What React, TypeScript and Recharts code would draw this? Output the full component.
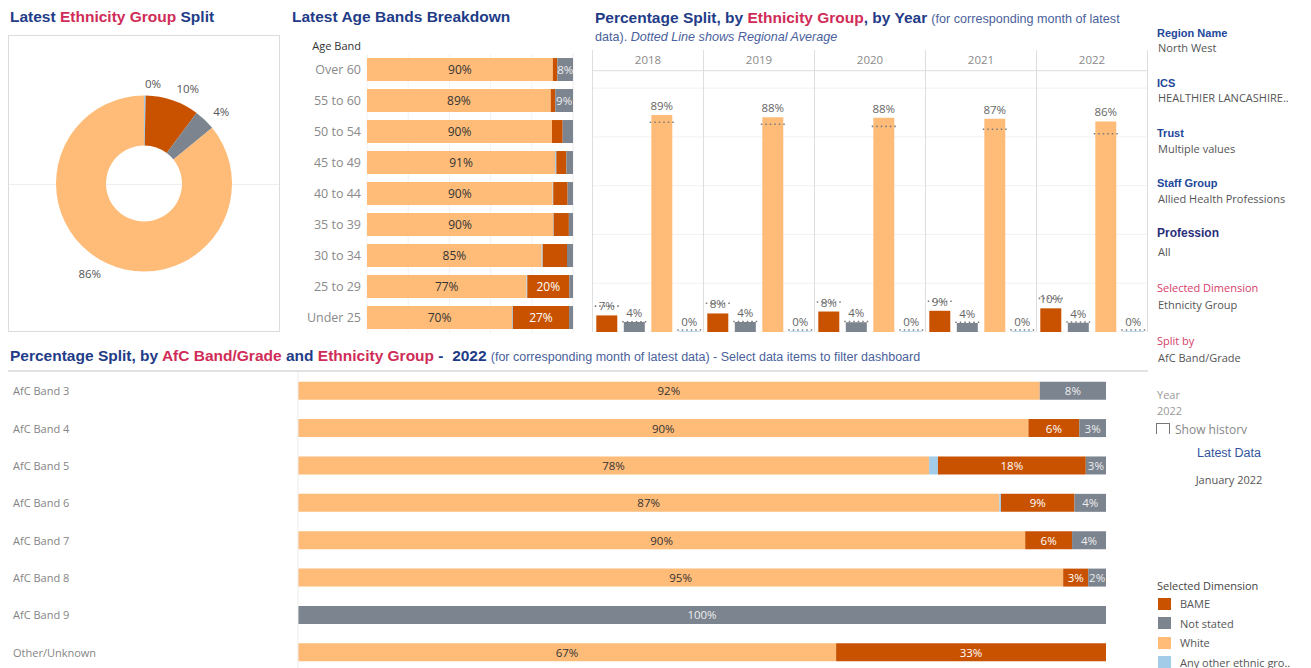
import React from 'react';
import {
  PieChart, Pie, Cell, BarChart, Bar, XAxis, YAxis, CartesianGrid, LabelList, ComposedChart, Line,
} from 'recharts';

// ---------- colours ----------
const COLORS: Record<string, string> = {
  BAME: '#C85200',
  'Not stated': '#7B848F',
  White: '#FFBC79',
  'Any other ethnic group': '#A3CCE9',
};
const NAVY = '#1F3C88';
const RED = '#D02C58';
const SUB = '#4A5F9C';
const FONT = "'Open Sans', 'Noto Sans', sans-serif";
const TFONT = "'Liberation Sans', Arial, sans-serif";

// ---------- data: latest split (pie) ----------
const pieGroups = ['Any other ethnic group', 'BAME', 'Not stated', 'White'];
const pieValues = [0.3, 9.9, 3.9, 85.9];

// ---------- data: age bands ----------
const ageBands = ['Over 60', '55 to 60', '50 to 54', '45 to 49', '40 to 44', '35 to 39', '30 to 34', '25 to 29', 'Under 25'];
const ageWhite = [90.2, 89.2, 89.8, 91.3, 90.1, 90.3, 84.8, 77.4, 70.4];
const ageOther = [0, 0, 0, 0.6, 0.3, 0.3, 0.5, 0.4, 0.4];
const ageBAME = [2.2, 2.2, 5.2, 4.9, 7.0, 7.4, 11.8, 20.4, 27.3];
const ageNS = [7.6, 8.6, 5.0, 3.2, 2.6, 2.0, 2.9, 1.8, 1.9];
const ageLabelledBAME = ['25 to 29', 'Under 25'];
const ageLabelledNS = ['Over 60', '55 to 60'];

// ---------- data: by year ----------
const years = ['2018', '2019', '2020', '2021', '2022'];
const yearGroups = ['BAME', 'Not stated', 'White', 'Any other ethnic group'];
const yearBAME = [6.8, 7.6, 8.4, 8.7, 9.7];
const yearNS = [4.1, 4.1, 4.0, 3.7, 3.8];
const yearWhite = [89, 88, 87.8, 87.4, 86.3];
const yearOther = [0.3, 0.3, 0.3, 0.3, 0.3];
const avgBAME = [10.6, 11.8, 12.3, 12.6, 13.8];
const avgNS = [4.2, 4.3, 4.3, 4.0, 4.1];
const avgWhite = [86.0, 85.2, 84.3, 83.1, 81.3];
const avgOther = [0.8, 0.8, 0.8, 0.8, 0.8];

// ---------- data: AfC band ----------
const afcBands = ['AfC Band 3', 'AfC Band 4', 'AfC Band 5', 'AfC Band 6', 'AfC Band 7', 'AfC Band 8', 'AfC Band 9', 'Other/Unknown'];
const afcWhite = [91.8, 90.4, 78.1, 86.8, 90.0, 94.7, 0, 66.6];
const afcOther = [0, 0, 1.1, 0.2, 0, 0, 0, 0];
const afcBAME = [0, 6.3, 18.3, 9.1, 5.8, 3.1, 0, 33.4];
const afcNS = [8.2, 3.3, 2.5, 3.9, 4.2, 2.2, 100, 0];

// ---------- side panel ----------
const legendItems = ['BAME', 'Not stated', 'White', 'Any other ethnic group'];
const legendLabels = ['BAME', 'Not stated', 'White', 'Any other ethnic gro..'];

// ---------- derived tables ----------
const pieData = pieGroups.map((g, i) => ({ name: g, value: pieValues[i] }));

const ageData = ageBands.map((band, i) => ({
  band,
  White: ageWhite[i],
  Other: ageOther[i],
  BAME: ageBAME[i],
  NS: ageNS[i],
  BAMELabel: ageLabelledBAME.includes(band) ? ageBAME[i] : null,
  NSLabel: ageLabelledNS.includes(band) ? ageNS[i] : null,
}));

const yearSeries = [yearBAME, yearNS, yearWhite, yearOther];
const yearAvg = [avgBAME, avgNS, avgWhite, avgOther];
const yearData = years.map((_, yi) =>
  yearGroups.map((g, gi) => ({ group: g, value: yearSeries[gi][yi], avg: yearAvg[gi][yi] })),
);

const afcData = afcBands.map((band, i) => ({
  band,
  White: afcWhite[i],
  Other: afcOther[i],
  BAME: afcBAME[i],
  NS: afcNS[i],
}));

const pct = (v: any) => `${Math.round(Number(v))}%`;

// ---------- renderers ----------
const RAD = Math.PI / 180;
const renderPieLabel = (p: any) => {
  const { cx, cy, midAngle, outerRadius, value } = p;
  const r = outerRadius + 12;
  const x = cx + r * Math.cos(-midAngle * RAD);
  const y = cy + r * Math.sin(-midAngle * RAD);
  return (
    <text x={x} y={y} textAnchor={x >= cx ? 'start' : 'end'} dominantBaseline="central" fill="#555" fontSize={11.5}>
      {pct(value)}
    </text>
  );
};

const makeSegLabel = (color: string, size: number, minValue: number) => (p: any) => {
  const { x, y, width, height, value } = p;
  if (value == null || Number(value) < minValue) return null;
  return (
    <text
      x={Number(x) + Number(width) / 2}
      y={Number(y) + Number(height) / 2}
      textAnchor="middle"
      dominantBaseline="central"
      fill={color}
      fontSize={size}
    >
      {pct(value)}
    </text>
  );
};

const renderAvgDash = (p: any) => {
  const { cx, cy, index } = p;
  if (cx == null || cy == null) return <g key={`d${index}`} />;
  return (
    <line
      key={`d${index}`}
      x1={cx - 12}
      x2={cx + 12}
      y1={cy}
      y2={cy}
      stroke="#7a7a7a"
      strokeWidth={1.6}
      strokeDasharray="1.5 3"
    />
  );
};

const AfcTick = (p: any) => {
  const { x, y, payload } = p;
  return (
    <text x={x - 285} y={y} textAnchor="start" dominantBaseline="central" fill="#858585" fontSize={11}>
      {payload.value}
    </text>
  );
};

const Txt = (p: { x: number; y: number; children: React.ReactNode; style?: React.CSSProperties }) => (
  <div style={{ position: 'absolute', left: p.x, top: p.y - 8, lineHeight: '16px', whiteSpace: 'nowrap', ...p.style }}>
    {p.children}
  </div>
);

const titleStyle: React.CSSProperties = { fontFamily: TFONT, fontWeight: 'bold', fontSize: 15.5, color: NAVY };
const subStyle: React.CSSProperties = { fontFamily: TFONT, fontSize: 12.6, color: SUB };
const fLabel: React.CSSProperties = { fontFamily: TFONT, fontWeight: 'bold', fontSize: 11, color: '#23479A' };
const fValue: React.CSSProperties = { fontSize: 11, color: '#555' };
const pinkLabel: React.CSSProperties = { fontSize: 11, color: '#D6406B' };

export default function App() {
  return (
    <div
      style={{
        position: 'absolute', left: 0, top: 0, width: 1311, height: 668, overflow: 'hidden',
        background: '#fff', fontFamily: FONT, color: '#555',
      }}
    >
      {/* ---------- Pie ---------- */}
      <Txt x={10} y={17} style={titleStyle}>
        Latest <span style={{ color: RED }}>Ethnicity Group</span> Split
      </Txt>
      <div style={{ position: 'absolute', left: 8, top: 35, width: 272, height: 297, border: '1px solid #dcdcdc', boxSizing: 'border-box' }}>
        <div style={{ position: 'absolute', left: 0, right: 0, top: 148, height: 1, background: '#eeeeee' }} />
        <div style={{ position: 'absolute', left: 0, top: 0 }}>
          <PieChart width={270} height={295} margin={{ top: 0, right: 0, bottom: 0, left: 0 }}>
            <Pie
              data={pieData}
              dataKey="value"
              nameKey="name"
              cx="50%"
              cy="50%"
              innerRadius={38}
              outerRadius={88}
              startAngle={90}
              endAngle={-270}
              stroke="none"
              label={renderPieLabel}
              labelLine={false}
              isAnimationActive={false}
            >
              {pieData.map((d) => (
                <Cell key={d.name} fill={COLORS[d.name]} />
              ))}
            </Pie>
          </PieChart>
        </div>
      </div>

      {/* ---------- Age bands ---------- */}
      <Txt x={292} y={17} style={titleStyle}>Latest Age Bands Breakdown</Txt>
      <div style={{ position: 'absolute', left: 290, top: 38, width: 71, textAlign: 'right', fontSize: 11, color: '#333', lineHeight: '16px' }}>
        Age Band
      </div>
      <div style={{ position: 'absolute', left: 290, top: 54 }}>
        <BarChart
          layout="vertical"
          width={290}
          height={279}
          data={ageData}
          margin={{ top: 0, right: 7, bottom: 0, left: 0 }}
          barCategoryGap="13%"
        >
          <CartesianGrid horizontal={false} stroke="#f2f2f2" />
          <XAxis type="number" domain={[0, 100]} ticks={[0, 20, 40, 60, 80, 100]} hide />
          <YAxis
            type="category"
            dataKey="band"
            width={77}
            axisLine={false}
            tickLine={false}
            tickSize={0}
            tickMargin={6}
            tick={{ fill: '#8a8a8a', fontSize: 12.5 }}
          />
          <Bar dataKey="White" stackId="a" fill={COLORS.White} isAnimationActive={false}>
            <LabelList dataKey="White" content={makeSegLabel('#333', 12, 0)} />
          </Bar>
          <Bar dataKey="Other" stackId="a" fill={COLORS['Any other ethnic group']} isAnimationActive={false} />
          <Bar dataKey="BAME" stackId="a" fill={COLORS.BAME} isAnimationActive={false}>
            <LabelList dataKey="BAMELabel" content={makeSegLabel('#fff', 12, 0)} />
          </Bar>
          <Bar dataKey="NS" stackId="a" fill={COLORS['Not stated']} isAnimationActive={false}>
            <LabelList dataKey="NSLabel" content={makeSegLabel('#eee', 11.5, 0)} />
          </Bar>
        </BarChart>
      </div>

      {/* ---------- By year ---------- */}
      <div style={{ position: 'absolute', left: 595, top: 9, lineHeight: '16px', whiteSpace: 'nowrap' }}>
        <span style={titleStyle}>
          Percentage Split, by <span style={{ color: RED }}>Ethnicity Group</span>, by Year
        </span>{' '}
        <span style={subStyle}>(for corresponding month of latest</span>
        <br />
        <span style={subStyle}>
          data). <i>Dotted Line shows Regional Average</i>
        </span>
      </div>
      <div style={{ position: 'absolute', left: 592, top: 50, display: 'flex' }}>
        {years.map((yr, i) => (
          <div
            key={yr}
            style={{
              width: 110,
              borderLeft: '1px solid #dedede',
              borderRight: i === years.length - 1 ? '1px solid #dedede' : undefined,
            }}
          >
            <div style={{ height: 20, borderBottom: '1px solid #e4e4e4', textAlign: 'center', lineHeight: '20px', fontSize: 11.5, color: '#8a8a8a' }}>
              {yr}
            </div>
            <ComposedChart
              width={110}
              height={261}
              data={yearData[i]}
              margin={{ top: 0, right: 0, bottom: 0, left: 0 }}
              barCategoryGap="12%"
            >
              <CartesianGrid vertical={false} stroke="#f1f1f1" />
              <XAxis dataKey="group" hide />
              <YAxis hide domain={[0, 107]} ticks={[0, 20, 40, 60, 80, 100]} />
              <Bar dataKey="value" isAnimationActive={false}>
                {yearData[i].map((d) => (
                  <Cell key={d.group} fill={COLORS[d.group]} />
                ))}
                <LabelList dataKey="value" position="top" fill="#666" fontSize={11.5} formatter={pct} />
              </Bar>
              <Line dataKey="avg" stroke="none" dot={renderAvgDash} activeDot={false} isAnimationActive={false} />
            </ComposedChart>
          </div>
        ))}
      </div>

      {/* ---------- AfC band ---------- */}
      <div style={{ position: 'absolute', left: 10, top: 347, lineHeight: '16px', whiteSpace: 'nowrap' }}>
        <span style={titleStyle}>
          Percentage Split, by <span style={{ color: RED }}>AfC Band/Grade</span> and{' '}
          <span style={{ color: RED }}>Ethnicity Group</span> -&nbsp; 2022
        </span>{' '}
        <span style={{ ...subStyle, fontSize: 12.5 }}>
          (for corresponding month of latest data) - Select data items to filter dashboard
        </span>
      </div>
      <div style={{ position: 'absolute', left: 8, top: 370, width: 1140, height: 2, background: '#e2e2e2' }} />
      <div style={{ position: 'absolute', left: 8, top: 372 }}>
        <BarChart
          layout="vertical"
          width={1140}
          height={299}
          data={afcData}
          margin={{ top: 0, right: 42, bottom: 0, left: 0 }}
          barCategoryGap="26%"
        >
          <XAxis type="number" domain={[0, 100]} hide />
          <YAxis
            type="category"
            dataKey="band"
            width={290}
            axisLine={{ stroke: '#ececec' }}
            tickLine={false}
            tickSize={0}
            tickMargin={0}
            tick={<AfcTick />}
          />
          <Bar dataKey="White" stackId="a" fill={COLORS.White} isAnimationActive={false}>
            <LabelList dataKey="White" content={makeSegLabel('#333', 11.5, 2)} />
          </Bar>
          <Bar dataKey="Other" stackId="a" fill={COLORS['Any other ethnic group']} isAnimationActive={false} />
          <Bar dataKey="BAME" stackId="a" fill={COLORS.BAME} isAnimationActive={false}>
            <LabelList dataKey="BAME" content={makeSegLabel('#fff', 11.5, 2)} />
          </Bar>
          <Bar dataKey="NS" stackId="a" fill={COLORS['Not stated']} isAnimationActive={false}>
            <LabelList dataKey="NS" content={makeSegLabel('#eee', 11.5, 2)} />
          </Bar>
        </BarChart>
      </div>

      {/* ---------- side panel ---------- */}
      <Txt x={1157} y={33} style={fLabel}>Region Name</Txt>
      <Txt x={1158} y={48} style={fValue}>North West</Txt>
      <Txt x={1157} y={83} style={fLabel}>ICS</Txt>
      <Txt x={1158} y={98} style={fValue}>HEALTHIER LANCASHIRE..</Txt>
      <Txt x={1157} y={133} style={fLabel}>Trust</Txt>
      <Txt x={1158} y={149} style={fValue}>Multiple values</Txt>
      <Txt x={1157} y={183} style={fLabel}>Staff Group</Txt>
      <Txt x={1158} y={199} style={fValue}>Allied Health Professions</Txt>
      <Txt x={1157} y={233} style={{ ...fLabel, fontSize: 12, color: '#2A2F7A' }}>Profession</Txt>
      <Txt x={1158} y={252} style={fValue}>All</Txt>
      <Txt x={1157} y={288} style={pinkLabel}>Selected Dimension</Txt>
      <Txt x={1158} y={305} style={fValue}>Ethnicity Group</Txt>
      <Txt x={1157} y={341} style={pinkLabel}>Split by</Txt>
      <Txt x={1158} y={358} style={fValue}>AfC Band/Grade</Txt>
      <Txt x={1157} y={395} style={{ fontSize: 11, color: '#9a9a9a' }}>Year</Txt>
      <Txt x={1157} y={411} style={{ fontSize: 11, color: '#9a9a9a' }}>2022</Txt>
      <div style={{ position: 'absolute', left: 1156, top: 422, width: 150, height: 12, overflow: 'hidden' }}>
        <div style={{ position: 'absolute', left: 0, top: 1, width: 14, height: 14, border: '1px solid #777', boxSizing: 'border-box' }} />
        <div style={{ position: 'absolute', left: 19, top: 0, fontSize: 12, color: '#888', lineHeight: '16px', whiteSpace: 'nowrap' }}>Show history</div>
      </div>
      <div style={{ position: 'absolute', left: 1150, width: 158, top: 445, textAlign: 'center', fontFamily: TFONT, fontSize: 12.5, color: '#3355A0', lineHeight: '16px' }}>
        Latest Data
      </div>
      <div style={{ position: 'absolute', left: 1150, width: 158, top: 472, textAlign: 'center', fontSize: 11, color: '#555', lineHeight: '16px' }}>
        January 2022
      </div>

      <Txt x={1157} y={586} style={{ fontSize: 11, color: '#444' }}>Selected Dimension</Txt>
      {legendItems.map((g, i) => (
        <div key={g} style={{ position: 'absolute', left: 1158, top: 597 + i * 19.5, display: 'flex', alignItems: 'center', height: 13 }}>
          <div style={{ width: 13, height: 12, background: COLORS[g] }} />
          <div style={{ marginLeft: 9, fontSize: 11, color: '#555', whiteSpace: 'nowrap', lineHeight: '13px' }}>{legendLabels[i]}</div>
        </div>
      ))}
    </div>
  );
}
